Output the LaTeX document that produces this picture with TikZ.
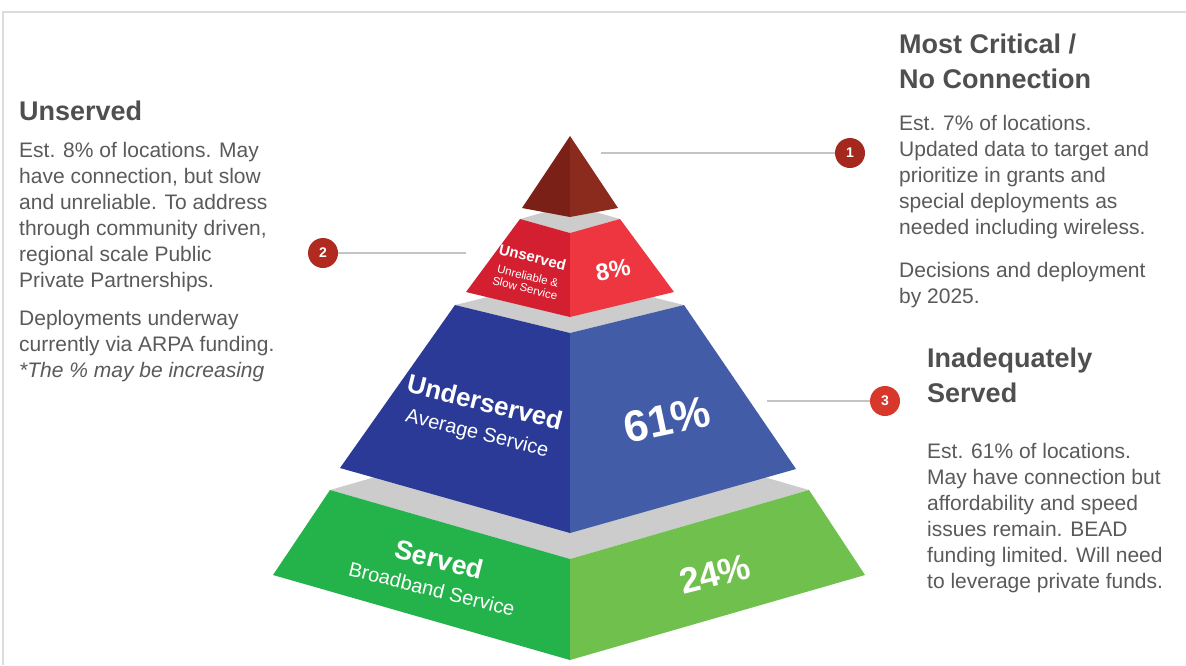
\documentclass[tikz,border=0pt]{standalone}
\usepackage{fontspec}
\setmainfont{Liberation Sans}
\definecolor{txt}{HTML}{5A5A5A}
\definecolor{head}{HTML}{4F4F4F}
\definecolor{topL}{HTML}{7A2016}
\definecolor{topR}{HTML}{8B2B1E}
\definecolor{redL}{HTML}{D41F30}
\definecolor{redR}{HTML}{EE3640}
\definecolor{bluL}{HTML}{2A3A96}
\definecolor{bluR}{HTML}{425CA8}
\definecolor{grnL}{HTML}{24B24B}
\definecolor{grnR}{HTML}{70C04E}
\definecolor{slab}{HTML}{CCCCCC}
\definecolor{lead}{HTML}{C4C4C4}
\definecolor{frame}{HTML}{DCDCDC}
\definecolor{cA}{HTML}{A4281D}
\definecolor{cB}{HTML}{B02A20}
\definecolor{cC}{HTML}{D8372B}
\tikzset{
  body/.style={text=txt, inner sep=0pt, anchor=base west, font=\fontsize{21}{26}\selectfont},
  headtxt/.style={text=head, inner sep=0pt, anchor=base west, font=\bfseries\fontsize{27}{32}\selectfont},
  badge/.style={circle, minimum size=30pt, inner sep=0pt, text=white, font=\bfseries\fontsize{14}{14}\selectfont},
  leader/.style={draw=lead, line width=2.5pt},
  lbl/.style={text=white, inner sep=0pt, align=center},
}
\newcommand\paral[5]{%
  \foreach \t [count=\i] in {#5} {\node[#4] (#1\i) at (#2, {#3+(\i-1)*26}) {\t};}}
\begin{document}
\begin{tikzpicture}[x=1pt,y=-1pt]
\useasboundingbox (0,0) rectangle (1186,665);
\fill[white] (0,0) rectangle (1186,665);
\draw[frame, line width=2pt] (3,665) -- (3,12) -- (1186,12);

% served tier
\fill[slab] (330,490) -- (570,421) -- (809,490) -- (570,559) -- cycle;
\fill[grnL] (330,490) -- (570,559) -- (570,660) -- (273,575) -- cycle;
\fill[grnR] (570,559) -- (809,490) -- (865,575) -- (570,660) -- cycle;
% underserved tier
\fill[slab] (455,305) -- (570,277) -- (684,305) -- (570,333) -- cycle;
\fill[bluL] (455,305) -- (570,333) -- (570,533) -- (340,468) -- cycle;
\fill[bluR] (570,333) -- (684,305) -- (796,469) -- (570,533) -- cycle;
% unserved tier
\fill[slab] (520,219) -- (570,205) -- (620,219) -- (570,233) -- cycle;
\fill[redL] (520,219) -- (570,233) -- (570,317) -- (466,292) -- cycle;
\fill[redR] (570,233) -- (620,219) -- (674,292) -- (570,317) -- cycle;
% top
\fill[topL] (570,136) -- (570,217) -- (522,208) -- cycle;
\fill[topR] (570,136) -- (618,208) -- (570,217) -- cycle;

% labels on the pyramid
\node[lbl, rotate=-14, font=\fontsize{11.5}{12.3}\selectfont] (uA) at (529,272)
  {{\bfseries\fontsize{15}{15}\selectfont Unserved}\\[6pt]Unreliable \&\\Slow Service};
\node[lbl, rotate=10, font=\bfseries\fontsize{24}{24}\selectfont] (uP) at (613,270) {8\%};
\node[lbl, rotate=-14, font=\fontsize{20}{29}\selectfont] (dA) at (481,418)
  {{\bfseries\fontsize{26}{26}\selectfont Underserved}\\Average Service};
\node[lbl, rotate=12, font=\bfseries\fontsize{44}{44}\selectfont] (dP) at (667,420) {61\%};
\node[lbl, rotate=-14, font=\fontsize{20}{28}\selectfont] (sA) at (436,573)
  {{\bfseries\fontsize{27}{27}\selectfont Served}\\Broadband Service};
\node[lbl, rotate=14, font=\bfseries\fontsize{36}{36}\selectfont] (sP) at (715,574) {24\%};

% callouts
\coordinate (e1) at (601,153);
\node[badge, fill=cA] (b1) at (850,153) {1};
\draw[leader] (e1) -- (b1);
\coordinate (e2) at (466,253);
\node[badge, fill=cB] (b2) at (323,253) {2};
\draw[leader] (b2) -- (e2);
\coordinate (e3) at (767,401);
\node[badge, fill=cC] (b3) at (885,401) {3};
\draw[leader] (e3) -- (b3);

% left text
\node[headtxt] (h1) at (19,120) {Unserved};
\paral{la}{19}{157}{body}{{Est. 8\% of locations. May},{have connection, but slow},{and unreliable. To address},{through community driven,},{regional scale Public},{Private Partnerships.}}
\paral{lb}{19}{325}{body}{{Deployments underway},{currently via ARPA funding.}}
\node[body, font=\itshape\fontsize{21}{26}\selectfont] (lc) at (19,377) {*The \% may be increasing};

% right top text
\node[headtxt] (h2) at (899,53) {Most Critical /};
\node[headtxt] (h3) at (899,88) {No Connection};
\paral{ra}{899}{130}{body}{{Est. 7\% of locations.},{Updated data to target and},{prioritize in grants and},{special deployments as},{needed including wireless.}}
\paral{rb}{899}{277}{body}{{Decisions and deployment},{by 2025.}}

% right bottom text
\node[headtxt] (h4) at (927,367) {Inadequately};
\node[headtxt] (h5) at (927,402) {Served};
\paral{rc}{927}{458}{body}{{Est. 61\% of locations.},{May have connection but},{affordability and speed},{issues remain. BEAD},{funding limited. Will need},{to leverage private funds.}}
\end{tikzpicture}
\end{document}
